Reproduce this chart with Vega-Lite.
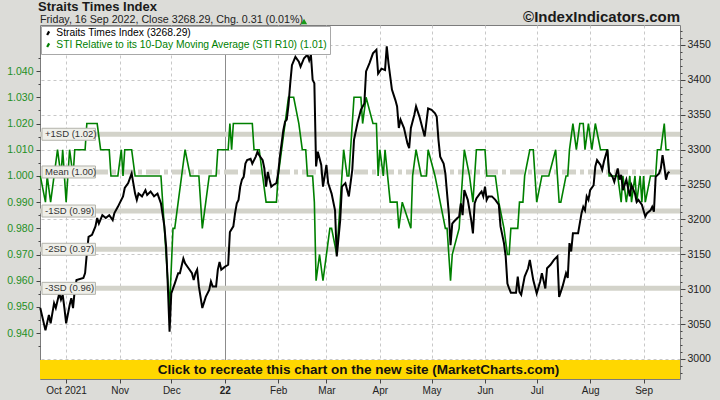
{
"$schema": "https://vega.github.io/schema/vega-lite/v6.json",
"width": 640, "height": 354,
"autosize": {"type": "none"},
"padding": {"left": 40, "top": 25, "right": 40, "bottom": 21},
"background": "#dcdcd8",
"datasets": {
"sti": [
{"date":"2021-09-16","v":3073},{"date":"2021-09-19","v":3041},{"date":"2021-09-21","v":3063},{"date":"2021-09-22","v":3051},{"date":"2021-09-24","v":3080},{"date":"2021-09-25","v":3073},{"date":"2021-09-27","v":3094},{"date":"2021-09-28","v":3085},{"date":"2021-09-29","v":3092},{"date":"2021-09-30","v":3073},
{"date":"2021-10-01","v":3051},{"date":"2021-10-03","v":3077},{"date":"2021-10-04","v":3087},{"date":"2021-10-05","v":3073},{"date":"2021-10-06","v":3099},{"date":"2021-10-07","v":3113},{"date":"2021-10-11","v":3116},{"date":"2021-10-12","v":3123},{"date":"2021-10-13","v":3151},{"date":"2021-10-14","v":3175},
{"date":"2021-10-16","v":3178},{"date":"2021-10-18","v":3190},{"date":"2021-10-19","v":3202},{"date":"2021-10-20","v":3194},{"date":"2021-10-22","v":3206},{"date":"2021-10-24","v":3202},{"date":"2021-10-26","v":3206},{"date":"2021-10-28","v":3199},{"date":"2021-10-29","v":3209},{"date":"2021-10-31","v":3218},
{"date":"2021-11-01","v":3223},{"date":"2021-11-03","v":3233},{"date":"2021-11-04","v":3245},{"date":"2021-11-06","v":3252},{"date":"2021-11-08","v":3266},{"date":"2021-11-10","v":3237},{"date":"2021-11-11","v":3228},{"date":"2021-11-12","v":3237},{"date":"2021-11-14","v":3233},{"date":"2021-11-16","v":3242},
{"date":"2021-11-17","v":3235},{"date":"2021-11-19","v":3240},{"date":"2021-11-21","v":3233},{"date":"2021-11-23","v":3237},{"date":"2021-11-25","v":3223},{"date":"2021-11-27","v":3190},{"date":"2021-11-28","v":3161},{"date":"2021-11-29","v":3104},{"date":"2021-11-30","v":3039},{"date":"2021-12-01","v":3094},
{"date":"2021-12-03","v":3108},{"date":"2021-12-05","v":3123},{"date":"2021-12-06","v":3123},{"date":"2021-12-08","v":3144},{"date":"2021-12-09","v":3137},{"date":"2021-12-11","v":3130},{"date":"2021-12-13","v":3123},{"date":"2021-12-14","v":3113},{"date":"2021-12-15","v":3123},{"date":"2021-12-16","v":3128},
{"date":"2021-12-17","v":3104},{"date":"2021-12-19","v":3073},{"date":"2021-12-21","v":3089},{"date":"2021-12-23","v":3099},{"date":"2021-12-24","v":3111},{"date":"2021-12-25","v":3104},{"date":"2021-12-27","v":3104},{"date":"2021-12-28","v":3128},{"date":"2021-12-29","v":3139},{"date":"2021-12-30","v":3128},
{"date":"2022-01-01","v":3132},{"date":"2022-01-03","v":3135},{"date":"2022-01-04","v":3182},{"date":"2022-01-06","v":3190},{"date":"2022-01-07","v":3209},{"date":"2022-01-08","v":3223},{"date":"2022-01-09","v":3228},{"date":"2022-01-10","v":3247},{"date":"2022-01-11","v":3257},{"date":"2022-01-12","v":3261},
{"date":"2022-01-13","v":3280},{"date":"2022-01-14","v":3285},{"date":"2022-01-16","v":3287},{"date":"2022-01-17","v":3280},{"date":"2022-01-19","v":3290},{"date":"2022-01-20","v":3297},{"date":"2022-01-21","v":3292},{"date":"2022-01-23","v":3285},{"date":"2022-01-24","v":3273},{"date":"2022-01-25","v":3247},
{"date":"2022-01-26","v":3268},{"date":"2022-01-27","v":3257},{"date":"2022-01-28","v":3247},{"date":"2022-01-29","v":3249},{"date":"2022-01-31","v":3252},{"date":"2022-02-01","v":3266},{"date":"2022-02-02","v":3290},{"date":"2022-02-04","v":3328},{"date":"2022-02-05","v":3340},{"date":"2022-02-06","v":3343},
{"date":"2022-02-07","v":3364},{"date":"2022-02-08","v":3395},{"date":"2022-02-09","v":3421},{"date":"2022-02-11","v":3433},{"date":"2022-02-13","v":3426},{"date":"2022-02-14","v":3419},{"date":"2022-02-16","v":3431},{"date":"2022-02-18","v":3436},{"date":"2022-02-19","v":3428},{"date":"2022-02-20","v":3436},
{"date":"2022-02-21","v":3400},{"date":"2022-02-22","v":3395},{"date":"2022-02-23","v":3276},{"date":"2022-02-24","v":3297},{"date":"2022-02-26","v":3278},{"date":"2022-02-27","v":3247},{"date":"2022-03-01","v":3278},{"date":"2022-03-02","v":3252},{"date":"2022-03-04","v":3237},{"date":"2022-03-06","v":3213},
{"date":"2022-03-07","v":3147},{"date":"2022-03-09","v":3199},{"date":"2022-03-10","v":3247},{"date":"2022-03-12","v":3252},{"date":"2022-03-14","v":3233},{"date":"2022-03-16","v":3271},{"date":"2022-03-17","v":3314},{"date":"2022-03-19","v":3338},{"date":"2022-03-21","v":3357},{"date":"2022-03-23","v":3366},
{"date":"2022-03-24","v":3412},{"date":"2022-03-26","v":3424},{"date":"2022-03-28","v":3438},{"date":"2022-03-30","v":3443},{"date":"2022-03-31","v":3409},{"date":"2022-04-02","v":3416},{"date":"2022-04-04","v":3414},{"date":"2022-04-05","v":3448},{"date":"2022-04-06","v":3424},{"date":"2022-04-07","v":3405},
{"date":"2022-04-08","v":3386},{"date":"2022-04-10","v":3371},{"date":"2022-04-11","v":3362},{"date":"2022-04-12","v":3331},{"date":"2022-04-13","v":3343},{"date":"2022-04-15","v":3331},{"date":"2022-04-17","v":3309},{"date":"2022-04-18","v":3302},{"date":"2022-04-19","v":3331},{"date":"2022-04-21","v":3350},
{"date":"2022-04-22","v":3362},{"date":"2022-04-24","v":3347},{"date":"2022-04-26","v":3328},{"date":"2022-04-27","v":3319},{"date":"2022-04-29","v":3359},{"date":"2022-05-01","v":3357},{"date":"2022-05-03","v":3352},{"date":"2022-05-04","v":3347},{"date":"2022-05-05","v":3314},{"date":"2022-05-06","v":3290},
{"date":"2022-05-08","v":3280},{"date":"2022-05-09","v":3266},{"date":"2022-05-10","v":3237},{"date":"2022-05-11","v":3209},{"date":"2022-05-12","v":3163},{"date":"2022-05-13","v":3194},{"date":"2022-05-14","v":3197},{"date":"2022-05-16","v":3202},{"date":"2022-05-17","v":3204},{"date":"2022-05-18","v":3223},
{"date":"2022-05-19","v":3206},{"date":"2022-05-20","v":3242},{"date":"2022-05-22","v":3228},{"date":"2022-05-24","v":3199},{"date":"2022-05-25","v":3180},{"date":"2022-05-26","v":3223},{"date":"2022-05-27","v":3230},{"date":"2022-05-29","v":3237},{"date":"2022-05-30","v":3240},{"date":"2022-05-31","v":3233},
{"date":"2022-06-01","v":3247},{"date":"2022-06-02","v":3228},{"date":"2022-06-03","v":3233},{"date":"2022-06-05","v":3233},{"date":"2022-06-07","v":3228},{"date":"2022-06-09","v":3221},{"date":"2022-06-10","v":3190},{"date":"2022-06-12","v":3166},{"date":"2022-06-13","v":3147},{"date":"2022-06-14","v":3108},
{"date":"2022-06-15","v":3101},{"date":"2022-06-16","v":3095},{"date":"2022-06-19","v":3095},{"date":"2022-06-20","v":3118},{"date":"2022-06-21","v":3096},{"date":"2022-06-22","v":3092},{"date":"2022-06-24","v":3118},{"date":"2022-06-26","v":3130},{"date":"2022-06-27","v":3142},{"date":"2022-06-29","v":3113},
{"date":"2022-07-01","v":3094},{"date":"2022-07-03","v":3111},{"date":"2022-07-04","v":3123},{"date":"2022-07-06","v":3101},{"date":"2022-07-07","v":3130},{"date":"2022-07-09","v":3135},{"date":"2022-07-11","v":3142},{"date":"2022-07-13","v":3147},{"date":"2022-07-14","v":3089},{"date":"2022-07-16","v":3104},
{"date":"2022-07-18","v":3123},{"date":"2022-07-19","v":3116},{"date":"2022-07-20","v":3166},{"date":"2022-07-21","v":3154},{"date":"2022-07-22","v":3180},{"date":"2022-07-25","v":3180},{"date":"2022-07-27","v":3209},{"date":"2022-07-28","v":3218},{"date":"2022-07-29","v":3213},{"date":"2022-07-30","v":3233},
{"date":"2022-07-31","v":3228},{"date":"2022-08-01","v":3242},{"date":"2022-08-03","v":3249},{"date":"2022-08-04","v":3276},{"date":"2022-08-05","v":3285},{"date":"2022-08-07","v":3278},{"date":"2022-08-08","v":3271},{"date":"2022-08-09","v":3283},{"date":"2022-08-11","v":3300},{"date":"2022-08-12","v":3268},
{"date":"2022-08-14","v":3261},{"date":"2022-08-15","v":3254},{"date":"2022-08-17","v":3273},{"date":"2022-08-18","v":3257},{"date":"2022-08-19","v":3264},{"date":"2022-08-20","v":3242},{"date":"2022-08-22","v":3257},{"date":"2022-08-23","v":3245},{"date":"2022-08-24","v":3233},{"date":"2022-08-25","v":3249},
{"date":"2022-08-27","v":3237},{"date":"2022-08-28","v":3225},{"date":"2022-08-29","v":3228},{"date":"2022-08-31","v":3221},{"date":"2022-09-02","v":3204},{"date":"2022-09-03","v":3209},{"date":"2022-09-05","v":3213},{"date":"2022-09-06","v":3218},{"date":"2022-09-07","v":3211},{"date":"2022-09-08","v":3261},
{"date":"2022-09-10","v":3266},{"date":"2022-09-11","v":3273},{"date":"2022-09-12","v":3292},{"date":"2022-09-13","v":3276},{"date":"2022-09-14","v":3257},{"date":"2022-09-15","v":3266},{"date":"2022-09-16","v":3268.29}
],
"r10": [
{"date":"2021-09-16","v":1.00},{"date":"2021-09-19","v":0.99},{"date":"2021-09-20","v":1.00},{"date":"2021-09-22","v":0.99},{"date":"2021-09-24","v":1.00},{"date":"2021-09-26","v":1.01},{"date":"2021-09-28","v":1.00},{"date":"2021-09-29","v":1.01},{"date":"2021-10-01","v":0.99},{"date":"2021-10-02","v":1.00},
{"date":"2021-10-03","v":1.01},{"date":"2021-10-05","v":1.00},{"date":"2021-10-06","v":1.01},{"date":"2021-10-12","v":1.01},{"date":"2021-10-13","v":1.02},{"date":"2021-10-19","v":1.02},{"date":"2021-10-21","v":1.01},{"date":"2021-10-26","v":1.01},{"date":"2021-10-27","v":1.00},{"date":"2021-10-31","v":1.00},
{"date":"2021-11-02","v":1.01},{"date":"2021-11-03","v":1.00},{"date":"2021-11-04","v":1.01},{"date":"2021-11-08","v":1.01},{"date":"2021-11-10","v":1.00},{"date":"2021-11-25","v":1.00},{"date":"2021-11-30","v":0.95},{"date":"2021-12-02","v":0.98},{"date":"2021-12-03","v":0.98},{"date":"2021-12-05","v":0.99},
{"date":"2021-12-07","v":1.00},{"date":"2021-12-09","v":1.01},{"date":"2021-12-12","v":1.00},{"date":"2021-12-17","v":1.00},{"date":"2021-12-19","v":0.98},{"date":"2021-12-21","v":0.99},{"date":"2021-12-23","v":1.00},{"date":"2021-12-27","v":1.00},{"date":"2021-12-28","v":1.01},{"date":"2022-01-03","v":1.01},
{"date":"2022-01-04","v":1.02},{"date":"2022-01-05","v":1.01},{"date":"2022-01-06","v":1.02},{"date":"2022-01-17","v":1.02},{"date":"2022-01-18","v":1.01},{"date":"2022-01-21","v":1.01},{"date":"2022-01-23","v":1.00},{"date":"2022-01-25","v":0.99},{"date":"2022-01-31","v":0.99},{"date":"2022-02-01","v":1.00},
{"date":"2022-02-05","v":1.02},{"date":"2022-02-07","v":1.03},{"date":"2022-02-10","v":1.03},{"date":"2022-02-13","v":1.02},{"date":"2022-02-15","v":1.01},{"date":"2022-02-17","v":1.01},{"date":"2022-02-18","v":1.00},{"date":"2022-02-21","v":1.00},{"date":"2022-02-22","v":0.99},{"date":"2022-02-23","v":0.96},
{"date":"2022-02-25","v":0.97},{"date":"2022-02-27","v":0.96},{"date":"2022-03-01","v":0.97},{"date":"2022-03-03","v":0.98},{"date":"2022-03-04","v":0.98},{"date":"2022-03-07","v":0.97},{"date":"2022-03-11","v":1.01},{"date":"2022-03-13","v":1.00},{"date":"2022-03-14","v":1.00},{"date":"2022-03-16","v":1.02},
{"date":"2022-03-17","v":1.03},{"date":"2022-03-21","v":1.03},{"date":"2022-03-22","v":1.02},{"date":"2022-03-24","v":1.03},{"date":"2022-03-28","v":1.02},{"date":"2022-03-30","v":1.02},{"date":"2022-03-31","v":1.00},{"date":"2022-04-01","v":1.01},{"date":"2022-04-03","v":1.00},{"date":"2022-04-04","v":1.01},
{"date":"2022-04-07","v":0.99},{"date":"2022-04-11","v":0.99},{"date":"2022-04-12","v":0.98},{"date":"2022-04-14","v":0.99},{"date":"2022-04-19","v":0.98},{"date":"2022-04-20","v":1.00},{"date":"2022-04-22","v":1.01},{"date":"2022-04-25","v":1.00},{"date":"2022-04-28","v":1.00},{"date":"2022-04-29","v":1.01},
{"date":"2022-05-03","v":1.00},{"date":"2022-05-06","v":0.99},{"date":"2022-05-09","v":0.98},{"date":"2022-05-10","v":0.98},{"date":"2022-05-12","v":0.96},{"date":"2022-05-13","v":0.97},{"date":"2022-05-17","v":0.98},{"date":"2022-05-20","v":1.01},{"date":"2022-05-23","v":1.00},{"date":"2022-05-25","v":0.99},
{"date":"2022-05-27","v":1.01},{"date":"2022-06-01","v":1.01},{"date":"2022-06-02","v":1.00},{"date":"2022-06-07","v":1.00},{"date":"2022-06-09","v":0.99},{"date":"2022-06-12","v":0.98},{"date":"2022-06-14","v":0.97},{"date":"2022-06-15","v":0.97},{"date":"2022-06-16","v":0.98},{"date":"2022-06-20","v":0.98},
{"date":"2022-06-21","v":0.99},{"date":"2022-06-23","v":0.99},{"date":"2022-06-24","v":1.00},{"date":"2022-06-27","v":1.01},{"date":"2022-06-29","v":1.01},{"date":"2022-07-01","v":0.99},{"date":"2022-07-04","v":1.00},{"date":"2022-07-08","v":1.00},{"date":"2022-07-12","v":1.01},{"date":"2022-07-14","v":0.99},
{"date":"2022-07-15","v":0.99},{"date":"2022-07-18","v":1.00},{"date":"2022-07-19","v":1.00},{"date":"2022-07-20","v":1.01},{"date":"2022-07-22","v":1.02},{"date":"2022-07-24","v":1.01},{"date":"2022-07-26","v":1.02},{"date":"2022-07-28","v":1.02},{"date":"2022-07-29","v":1.01},{"date":"2022-07-31","v":1.02},
{"date":"2022-08-02","v":1.01},{"date":"2022-08-04","v":1.02},{"date":"2022-08-07","v":1.01},{"date":"2022-08-11","v":1.01},{"date":"2022-08-12","v":1.00},{"date":"2022-08-17","v":1.00},{"date":"2022-08-19","v":0.99},{"date":"2022-08-20","v":1.00},{"date":"2022-08-22","v":0.99},{"date":"2022-08-24","v":1.00},
{"date":"2022-08-25","v":0.99},{"date":"2022-08-27","v":1.00},{"date":"2022-08-28","v":0.99},{"date":"2022-08-30","v":1.00},{"date":"2022-08-31","v":0.99},{"date":"2022-09-01","v":1.00},{"date":"2022-09-02","v":0.99},{"date":"2022-09-05","v":1.00},{"date":"2022-09-08","v":1.00},{"date":"2022-09-09","v":1.01},
{"date":"2022-09-11","v":1.01},{"date":"2022-09-13","v":1.02},{"date":"2022-09-14","v":1.01},{"date":"2022-09-16","v":1.01}
],
"sd": [
{"sd":1.0159,"label":"+1SD (1.02)","kind":"sd"},
{"sd":1.0015,"label":"Mean (1.00)","kind":"mean"},
{"sd":0.9866,"label":"-1SD (0.99)","kind":"sd"},
{"sd":0.9720,"label":"-2SD (0.97)","kind":"sd"},
{"sd":0.9571,"label":"-3SD (0.96)","kind":"sd"}
]
},
"layer": [
{"data": {"name": "sd"}, "mark": {"type": "rule", "strokeWidth": 5, "color": "#d3d3ca"},
 "encoding": {"y": {"field": "sd", "type": "quantitative", "scale": {"domain": [0.9225, 1.0576], "zero": false, "nice": false}, "axis": null},
  "strokeDash": {"condition": {"test": "datum.kind == 'mean'", "value": [14, 4, 4, 4]}, "value": [1, 0]}}},
{"data": {"name": "r10"}, "mark": {"type": "line", "color": "#008000", "strokeWidth": 1.6},
 "encoding": {
  "x": {"field": "date", "type": "temporal", "title": null, "scale": {"type": "utc", "nice": false, "domain": [{"year": 2021, "month": 9, "date": 15, "hours": 20, "utc": true}, {"year": 2022, "month": 9, "date": 22, "hours": 3, "utc": true}]}},
  "y": {"field": "v", "type": "quantitative", "scale": {"domain": [0.9225, 1.0576], "zero": false, "nice": false},
   "axis": {"orient": "left", "title": null, "grid": false, "domain": false,
    "values": [0.935,0.94,0.945,0.95,0.955,0.96,0.965,0.97,0.975,0.98,0.985,0.99,0.995,1.0,1.005,1.01,1.015,1.02,1.025,1.03,1.035,1.04,1.045],
    "labelExpr": "abs(datum.value*100 - round(datum.value*100)) < 0.01 ? format(datum.value, '.3f') : ''",
    "tickSize": {"condition": {"test": "abs(datum.value*100 - round(datum.value*100)) < 0.01", "value": 4}, "value": 2},
    "tickColor": "#444444", "labelColor": "#1f8f1f", "labelFont": "Liberation Sans", "labelFontSize": 10.5, "labelPadding": 3}},
  "color": {"datum": "STI Relative to its 10-Day Moving Average (STI R10) (1.01)", "type": "nominal",
   "scale": {"domain": ["Straits Times Index (3268.29)", "STI Relative to its 10-Day Moving Average (STI R10) (1.01)"], "range": ["#000000", "#008000"]},
   "legend": {"title": null, "orient": "top-left", "offset": 1, "fillColor": "#ffffff", "strokeColor": "#a8a8a8", "padding": 2, "rowPadding": -2,
    "labelFont": "Liberation Sans", "labelFontSize": 10.3, "labelLimit": 400, "labelOffset": 3,
    "symbolType": "M-0.5,0.9L0.5,-0.9", "symbolStrokeWidth": 2.2, "symbolSize": 16,
    "encode": {"labels": {"update": {"fill": {"signal": "datum.label == 'Straits Times Index (3268.29)' ? '#000000' : '#008000'"}}}}}}
 }},
{"data": {"name": "sti"}, "mark": {"type": "line", "color": "#000000", "strokeWidth": 2},
 "encoding": {
  "x": {"field": "date", "type": "temporal", "title": null, "scale": {"type": "utc", "nice": false, "domain": [{"year": 2021, "month": 9, "date": 15, "hours": 20, "utc": true}, {"year": 2022, "month": 9, "date": 22, "hours": 3, "utc": true}]}},
  "y": {"field": "v", "type": "quantitative", "scale": {"domain": [2971.3, 3478.6], "zero": false, "nice": false},
   "axis": {"orient": "right", "title": null, "domain": false, "grid": true, "gridDash": [3, 3], "gridColor": "#c8c8c8",
    "gridOpacity": {"condition": {"test": "datum.value % 50 == 0", "value": 1}, "value": 0},
    "values": [2980,2990,3000,3010,3020,3030,3040,3050,3060,3070,3080,3090,3100,3110,3120,3130,3140,3150,3160,3170,3180,3190,3200,3210,3220,3230,3240,3250,3260,3270,3280,3290,3300,3310,3320,3330,3340,3350,3360,3370,3380,3390,3400,3410,3420,3430,3440,3450,3460,3470],
    "labelExpr": "datum.value % 50 == 0 ? format(datum.value, 'd') : ''",
    "tickSize": {"condition": {"test": "datum.value % 50 == 0", "value": 5}, "value": 2},
    "tickColor": "#444444", "labelColor": "#222222", "labelFont": "Liberation Sans", "labelFontSize": 10.5, "labelPadding": 2}},
  "color": {"datum": "Straits Times Index (3268.29)", "type": "nominal"}
 }},
{"data": {"name": "sd"}, "mark": {"type": "rect", "fill": "#efefe9", "stroke": "#b4b4ac", "strokeWidth": 1, "yOffset": -6, "y2Offset": 6},
 "encoding": {
  "x": {"datum": {"year": 2021, "month": 9, "date": 17, "utc": true}, "type": "temporal", "title": null, "scale": {"type": "utc", "nice": false, "domain": [{"year": 2021, "month": 9, "date": 15, "hours": 20, "utc": true}, {"year": 2022, "month": 9, "date": 22, "hours": 3, "utc": true}]}},
  "x2": {"datum": {"year": 2021, "month": 10, "date": 18, "utc": true}},
  "y": {"field": "sd", "type": "quantitative", "scale": {"domain": [0.9225, 1.0576], "zero": false, "nice": false}, "axis": null},
  "y2": {"field": "sd"}
 }},
{"data": {"name": "sd"}, "mark": {"type": "text", "align": "left", "baseline": "middle", "dx": 3, "font": "Liberation Sans", "fontSize": 9.5, "color": "#333333"},
 "encoding": {
  "x": {"datum": {"year": 2021, "month": 9, "date": 17, "utc": true}, "type": "temporal", "title": null, "scale": {"type": "utc", "nice": false, "domain": [{"year": 2021, "month": 9, "date": 15, "hours": 20, "utc": true}, {"year": 2022, "month": 9, "date": 22, "hours": 3, "utc": true}]}},
  "y": {"field": "sd", "type": "quantitative", "scale": {"domain": [0.9225, 1.0576], "zero": false, "nice": false}, "axis": null},
  "text": {"field": "label"}
 }},
{"data": {"values": [{}]}, "mark": {"type": "rect", "fill": "#ffd700"},
 "encoding": {
  "y": {"datum": 2971.3, "type": "quantitative", "scale": {"domain": [2971.3, 3478.6], "zero": false, "nice": false}, "axis": null},
  "y2": {"datum": 2998.6}
 }},
{"data": {"values": [{"t": "Click to recreate this chart on the new site (MarketCharts.com)"}]}, "mark": {"type": "text", "align": "center", "baseline": "middle", "font": "Liberation Sans", "fontSize": 13.5, "fontWeight": "bold", "color": "#111111"},
 "encoding": {
  "x": {"datum": {"year": 2022, "month": 3, "date": 19, "hours": 14, "utc": true}, "type": "temporal", "title": null, "scale": {"type": "utc", "nice": false, "domain": [{"year": 2021, "month": 9, "date": 15, "hours": 20, "utc": true}, {"year": 2022, "month": 9, "date": 22, "hours": 3, "utc": true}]}},
  "y": {"datum": 2984.2, "type": "quantitative", "scale": {"domain": [2971.3, 3478.6], "zero": false, "nice": false}, "axis": null},
  "text": {"field": "t"}
 }},
{"data": {"values": [{"t": "©IndexIndicators.com"}]}, "mark": {"type": "text", "align": "right", "baseline": "middle", "font": "Liberation Sans", "fontSize": 15, "fontWeight": "bold", "color": "#1a1a1a"},
 "encoding": {
  "x": {"datum": {"year": 2022, "month": 9, "date": 22, "hours": 3, "utc": true}, "type": "temporal", "title": null, "scale": {"type": "utc", "nice": false, "domain": [{"year": 2021, "month": 9, "date": 15, "hours": 20, "utc": true}, {"year": 2022, "month": 9, "date": 22, "hours": 3, "utc": true}]}},
  "y": {"datum": 3490, "type": "quantitative", "scale": {"domain": [2971.3, 3478.6], "zero": false, "nice": false}, "axis": null},
  "text": {"field": "t"}
 }},
{"data": {"values": [{"t": "Straits Times Index"}]}, "mark": {"type": "text", "align": "left", "baseline": "middle", "dx": -2, "font": "Liberation Sans", "fontSize": 13, "fontWeight": "bold", "color": "#1a1a1a"},
 "encoding": {
  "x": {"datum": {"year": 2021, "month": 9, "date": 15, "hours": 20, "utc": true}, "type": "temporal", "title": null, "scale": {"type": "utc", "nice": false, "domain": [{"year": 2021, "month": 9, "date": 15, "hours": 20, "utc": true}, {"year": 2022, "month": 9, "date": 22, "hours": 3, "utc": true}]}},
  "y": {"datum": 3503.7, "type": "quantitative", "scale": {"domain": [2971.3, 3478.6], "zero": false, "nice": false}, "axis": null},
  "text": {"field": "t"}
 }},
{"data": {"values": [{"t": "Friday, 16 Sep 2022, Close 3268.29, Chg. 0.31 (0.01%)"}]}, "mark": {"type": "text", "align": "left", "baseline": "middle", "font": "Liberation Sans", "fontSize": 10.7, "color": "#222222"},
 "encoding": {
  "x": {"datum": {"year": 2021, "month": 9, "date": 15, "hours": 20, "utc": true}, "type": "temporal", "title": null, "scale": {"type": "utc", "nice": false, "domain": [{"year": 2021, "month": 9, "date": 15, "hours": 20, "utc": true}, {"year": 2022, "month": 9, "date": 22, "hours": 3, "utc": true}]}},
  "y": {"datum": 3485.1, "type": "quantitative", "scale": {"domain": [2971.3, 3478.6], "zero": false, "nice": false}, "axis": null},
  "text": {"field": "t"}
 }},
{"data": {"values": [{"chg": 0.31}]}, "mark": {"type": "point", "shape": "triangle-up", "filled": true, "size": 40, "color": "#1a9a1a", "opacity": 1},
 "encoding": {
  "x": {"datum": {"year": 2022, "month": 2, "date": 16, "utc": true}, "type": "temporal", "title": null, "scale": {"type": "utc", "nice": false, "domain": [{"year": 2021, "month": 9, "date": 15, "hours": 20, "utc": true}, {"year": 2022, "month": 9, "date": 22, "hours": 3, "utc": true}]}},
  "y": {"datum": 3483.7, "type": "quantitative", "scale": {"domain": [2971.3, 3478.6], "zero": false, "nice": false}, "axis": null}
 }}
],
"resolve": {"scale": {"y": "independent"}},
"config": {
 "view": {"fill": "#ffffff", "stroke": "#7c7c7c"},
 "axisX": {"grid": true, "domain": false, "tickCount": {"interval": "month", "step": 1}, "tickSize": 4, "tickColor": "#444444",
  "labelFont": "Liberation Sans", "labelFontSize": 10, "labelColor": "#222222", "labelPadding": 2,
  "labelExpr": "utcmonth(datum.value)==0 ? utcFormat(datum.value,'%y') : (utcmonth(datum.value)==9 && utcyear(datum.value)==2021 ? 'Oct 2021' : utcFormat(datum.value,'%b'))",
  "labelFontWeight": {"condition": {"test": "utcmonth(datum.value)==0", "value": "bold"}, "value": "normal"},
  "gridDash": {"condition": {"test": "utcmonth(datum.value)==0", "value": []}, "value": [3, 3]},
  "gridColor": {"condition": {"test": "utcmonth(datum.value)==0", "value": "#8c8c8c"}, "value": "#c8c8c8"}}
}
}
